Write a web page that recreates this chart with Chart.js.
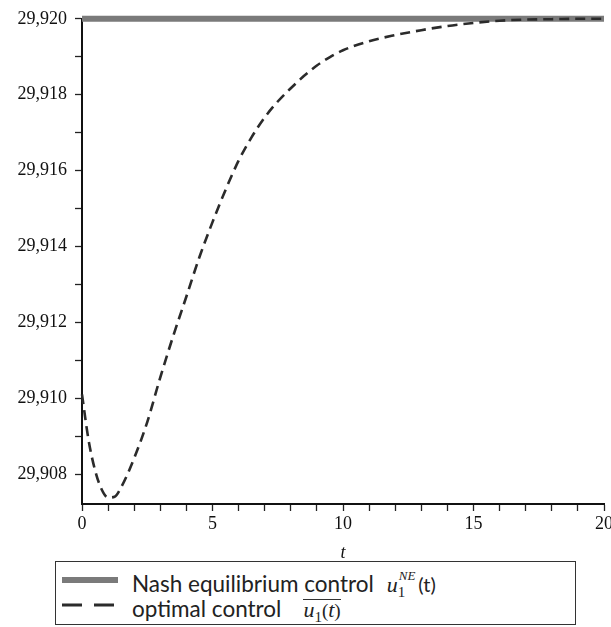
<!DOCTYPE html>
<html>
<head>
<meta charset="utf-8" />
<script src="https://cdn.jsdelivr.net/npm/chart.js@4.4.1/dist/chart.umd.min.js"></script>
<style>
  body { margin: 0; background: #fff; }
  #wrap { position: relative; width: 611px; height: 627px; overflow: hidden; }
  #plot { position: absolute; left: 0; top: 0; }
  #legend {
    position: absolute; left: 55px; top: 561px; width: 519px; height: 52px;
    border: 1.5px solid #333; background: #fff;
    font-family: Lato, "Open Sans", sans-serif; font-size: 22.5px; color: #222;
    padding-top: 10px; box-sizing: content-box;
  }
  .row { position: relative; height: 25px; line-height: 25px; white-space: nowrap; }
  .row svg { position: absolute; left: 6px; top: 0; }
  .row .txt { position: absolute; left: 76px; top: -1px; }
  .math { display: inline-block; position: relative; font-family: "Liberation Serif", serif; font-size: 19px; line-height: 20px; }
  .math i { font-size: 22px; }
  .math sub { font-size: 15px; font-style: normal; vertical-align: -5px; }
  .math sup { font-size: 13px; font-style: italic; position: absolute; left: 12px; top: -8px; }
  .math .paren { font-family: Lato, sans-serif; font-size: 20px; margin-left: 13px; }
  .bar { border-top: 1.5px solid #333; padding-top: 1px; line-height: 18px; }
  .gap1 { margin-left: 13px; }
  .gap2 { margin-left: 22px; }
</style>
</head>
<body>
<div id="wrap">
  <canvas id="plot" width="611" height="560"></canvas>
  <div id="legend"></div>
</div>

<script>
// time grid and optimal control trajectory
var tValues = [0, 0.25, 0.5, 0.75, 1, 1.25, 1.5, 2, 2.5, 3, 3.5, 4, 4.5, 5, 5.5, 6, 6.5, 7, 7.5, 8, 8.5, 9, 9.5, 10, 11, 12, 13, 14, 15, 16, 17, 18, 19, 20];
var uOptimal = [29.9101, 29.9089, 29.9081, 29.9076, 29.90738, 29.9074, 29.90765, 29.90842, 29.90937, 29.91055,
                29.91165, 29.91268, 29.91372, 29.91464, 29.91549, 29.91626, 29.91688, 29.9174, 29.91782, 29.91817,
                29.91849, 29.91877, 29.91899, 29.91917, 29.91941, 29.91957, 29.9197, 29.91981, 29.91989, 29.91995,
                29.91998, 29.91999, 29.92, 29.92];

// Nash equilibrium control is constant
var tNash = [0, 20];
var uNash = [29.92, 29.92];

var xTickValues = [0, 1, 2, 3, 4, 5, 6, 7, 8, 9, 10, 11, 12, 13, 14, 15, 16, 17, 18, 19, 20];
var xTickLabels = ['0', '', '', '', '', '5', '', '', '', '', '10', '', '', '', '', '15', '', '', '', '', '20'];
var yTickValues = [29.908, 29.909, 29.910, 29.911, 29.912, 29.913, 29.914, 29.915, 29.916, 29.917, 29.918, 29.919, 29.920];
var yTickLabels = ['29,908', '', '29,910', '', '29,912', '', '29,914', '', '29,916', '', '29,918', '', '29,920'];

var legendLabels = [
  'Nash equilibrium control<span class="math gap1"><i>u</i><sub>1</sub><sup>NE</sup><span class="paren">(t)</span></span>',
  'optimal control<span class="math gap2 bar"><i>u</i><sub>1</sub>(<i>t</i>)</span>'
];

function pairs(xs, ys) {
  return xs.map(function (x, i) { return { x: x, y: ys[i] }; });
}

var tickFont = { family: '"Liberation Serif", serif', size: 18 };

var ctx = document.getElementById('plot').getContext('2d');
var chart = new Chart(ctx, {
  type: 'line',
  data: {
    datasets: [{
      label: 'Nash equilibrium control',
      data: pairs(tNash, uNash),
      borderColor: 'rgb(122,122,122)',
      borderWidth: 6,
      pointRadius: 0,
      clip: false,
      order: 2
    }, {
      label: 'optimal control',
      data: pairs(tValues, uOptimal),
      borderColor: '#2b2b2b',
      borderWidth: 2.6,
      borderDash: [10, 6],
      cubicInterpolationMode: 'monotone',
      pointRadius: 0,
      clip: false,
      order: 1
    }]
  },
  options: {
    responsive: false,
    animation: false,
    layout: { padding: { top: 16, right: 7, left: 0, bottom: 0 } },
    plugins: { legend: { display: false }, tooltip: { enabled: false } },
    scales: {
      x: {
        type: 'linear', min: 0, max: 20,
        afterBuildTicks: function (s) { s.ticks = xTickValues.map(function (v) { return { value: v }; }); },
        afterFit: function (s) { s.height = 56; s.paddingLeft = 0; s.paddingRight = 0; },
        ticks: {
          autoSkip: false, maxRotation: 0, padding: 2, color: '#111', font: tickFont,
          callback: function (v, i) { return xTickLabels[i]; }
        },
        grid: { drawOnChartArea: false, tickLength: 7, tickColor: '#222', tickWidth: 1.3 },
        border: { color: '#111', width: 2 },
        title: {
          display: true, text: 't', color: '#111', padding: 0,
          font: { family: '"Liberation Serif", serif', size: 18, style: 'italic', lineHeight: 0.8 }
        }
      },
      y: {
        min: 29.90721, max: 29.920,
        afterBuildTicks: function (s) { s.ticks = yTickValues.map(function (v) { return { value: v }; }); },
        afterFit: function (s) { s.width = 82; },
        ticks: {
          autoSkip: false, padding: 8, color: '#111', font: tickFont,
          callback: function (v, i) { return yTickLabels[i]; }
        },
        grid: { drawOnChartArea: false, tickLength: 7, tickColor: '#222', tickWidth: 1.3 },
        border: { color: '#111', width: 2 }
      }
    }
  }
});

// legend built from the dataset styles
var legend = document.getElementById('legend');
chart.data.datasets.forEach(function (ds, i) {
  var row = document.createElement('div');
  row.className = 'row';
  var dash = ds.borderDash ? ds.borderDash.map(function (d) { return d * 2; }).join(' ') : '';
  row.innerHTML =
    '<svg width="56" height="25"><line x1="0" y1="8" x2="56" y2="8" stroke="' + ds.borderColor +
    '" stroke-width="' + (ds.borderDash ? 3 : ds.borderWidth) + '"' +
    (dash ? ' stroke-dasharray="' + dash + '"' : '') + '/></svg>' +
    '<span class="txt">' + legendLabels[i] + '</span>';
  legend.appendChild(row);
});
</script>
</body>
</html>
